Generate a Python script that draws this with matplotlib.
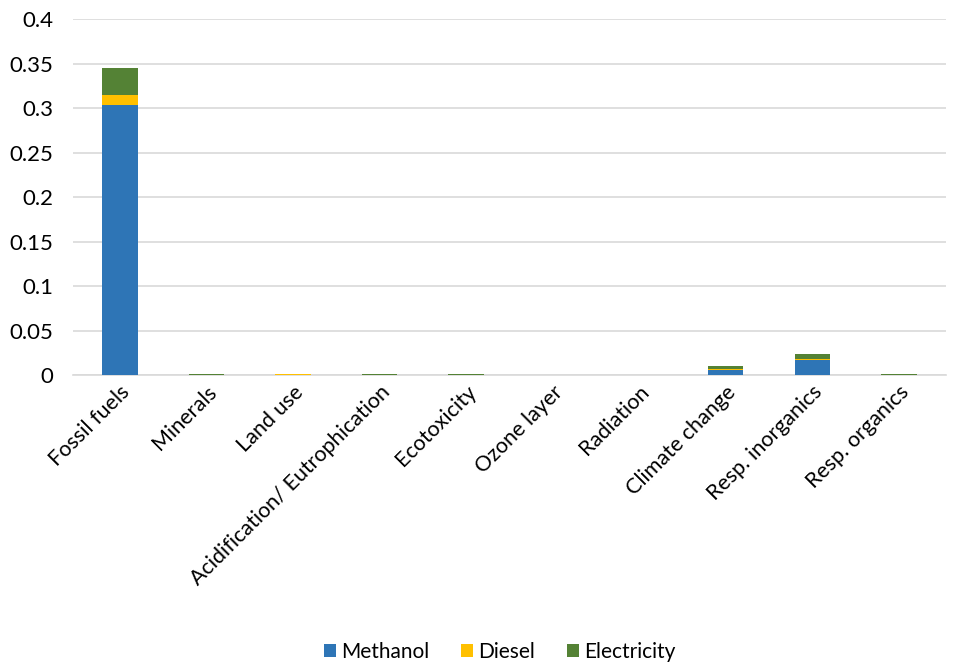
import matplotlib.pyplot as plt
import numpy as np

categories = ['Fossil fuels', 'Minerals', 'Land use', 'Acidification/ Eutrophication',
              'Ecotoxicity', 'Ozone layer', 'Radiation', 'Climate change',
              'Resp. inorganics', 'Resp. organics']
methanol = [0.304, 0.0003, 0.0005, 0.0003, 0.0002, 0.0, 0.0, 0.006, 0.0172, 0.0002]
diesel = [0.0105, 0.0001, 0.0001, 0.0001, 0.0001, 0.0, 0.0, 0.0005, 0.001, 0.0001]
electricity = [0.031, 0.0006, 0.0009, 0.0005, 0.0003, 0.0, 0.0, 0.0035, 0.0049, 0.0003]

plt.rcParams['font.family'] = ['Lato', 'DejaVu Sans']

fig = plt.figure(figsize=(9.61, 6.62), dpi=100)
ax = fig.add_axes([0.076, 0.4335, 0.908, 0.5375])

x = np.arange(len(categories))
w = 0.41
m = np.array(methanol)
d = np.array(diesel)
e = np.array(electricity)
ax.bar(x, m, w, color='#2e75b6', label='Methanol', zorder=3)
ax.bar(x, d, w, bottom=m, color='#ffc000', label='Diesel', zorder=3)
ax.bar(x, e, w, bottom=m + d, color='#548235', label='Electricity', zorder=3)

ax.set_ylim(0, 0.4)
ax.set_xlim(-0.54, len(categories) - 0.46)
ax.set_yticks(np.arange(0, 0.401, 0.05))
ax.set_yticklabels(['0', '0.05', '0.1', '0.15', '0.2', '0.25', '0.3', '0.35', '0.4'])
ax.yaxis.grid(True, color='#d9d9d9', linewidth=1.2, zorder=0)
ax.set_xticks(x)
ax.set_xticklabels(categories, rotation=45, ha='right', rotation_mode='anchor')
ax.tick_params(axis='both', length=0, labelsize=16, colors='black')
ax.tick_params(axis='x', labelsize=15.5, pad=5)
ax.tick_params(axis='y', pad=14)
for s in ['top', 'right', 'left']:
    ax.spines[s].set_visible(False)
ax.spines['bottom'].set_color('#d9d9d9')
ax.spines['bottom'].set_linewidth(1.2)

fig.legend(loc='lower center', bbox_to_anchor=(0.52, -0.028), ncol=3, frameon=False,
           fontsize=15, handlelength=0.6, handleheight=0.6, handletextpad=0.25,
           columnspacing=1.5)

plt.savefig('out.png', dpi=100)
